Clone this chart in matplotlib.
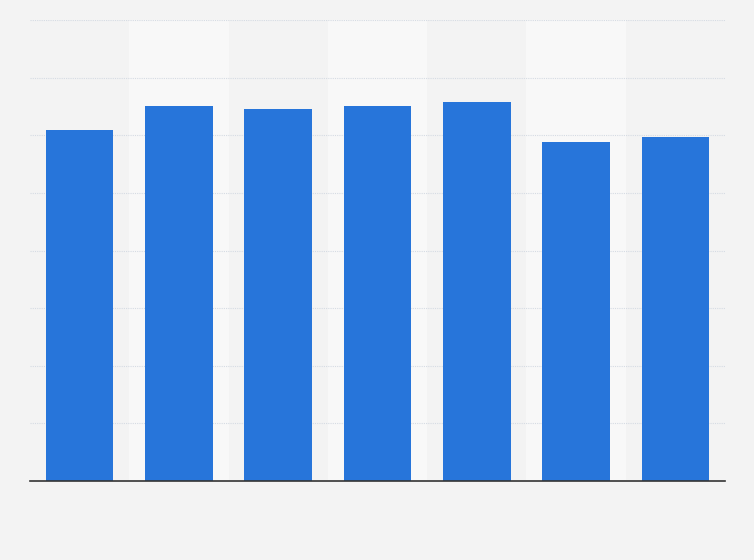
import matplotlib.pyplot as plt
import numpy as np

categories = ["1", "2", "3", "4", "5", "6", "7"]
values = [6.09, 6.51, 6.46, 6.51, 6.58, 5.89, 5.97]
y_max = 8
grid_ticks = [1, 2, 3, 4, 5, 6, 7, 8]

fig = plt.figure(figsize=(7.54, 5.6), dpi=100)
fig.patch.set_facecolor('#f3f3f3')
ax = fig.add_axes([30/754, 79/560, 695/754, 461/560])
ax.set_facecolor('#f3f3f3')

x = np.arange(len(categories))
# alternating lighter bands
for i in x:
    if i % 2 == 1:
        ax.axvspan(i - 0.5, i + 0.5, color='#f8f8f8', zorder=0, lw=0)

for t in grid_ticks:
    ax.axhline(t, color='#d5dbe3', lw=0.8, ls=(0, (1, 1)), zorder=1)

ax.bar(x, values, width=0.68, color='#2775da', zorder=2)

ax.set_xlim(-0.5, len(categories) - 0.5)
ax.set_ylim(0, y_max)
ax.set_xticks([])
ax.set_yticks([])
for s in ['top', 'right', 'left']:
    ax.spines[s].set_visible(False)
ax.spines['bottom'].set_color('#333333')
ax.spines['bottom'].set_linewidth(1.2)
ax.spines['bottom'].set_zorder(3)

fig.savefig('out.png', dpi=100, facecolor=fig.get_facecolor())
